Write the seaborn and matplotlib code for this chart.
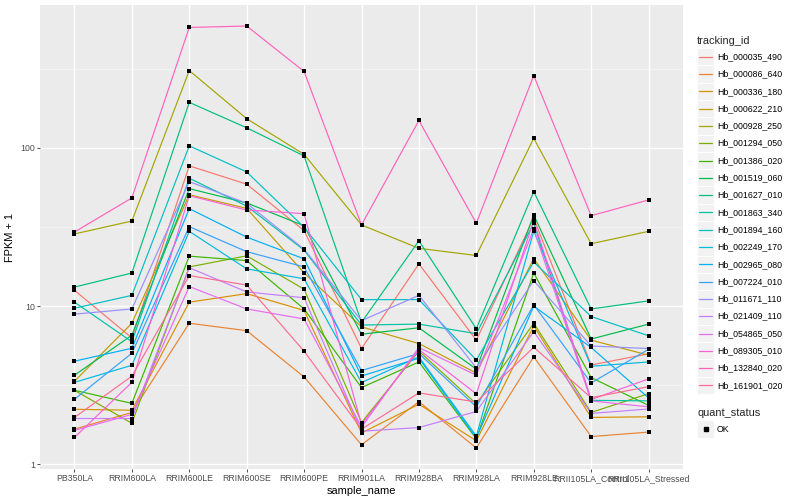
import numpy as np
import pandas as pd
import matplotlib
matplotlib.use("Agg")
import matplotlib.pyplot as plt
import seaborn as sns
from matplotlib.patches import Rectangle
from matplotlib.lines import Line2D
from matplotlib.ticker import FixedLocator, NullFormatter

# ---------------- data (FPKM + 1) ----------------
samples = ["PB350LA", "RRIM600LA", "RRIM600LE", "RRIM600SE", "RRIM600PE",
           "RRIM901LA", "RRIM928BA", "RRIM928LA", "RRIM928LE",
           "RRII105LA_Control", "RRII105LA_Stressed"]

tracking_ids = ["Hb_000035_490", "Hb_000086_640", "Hb_000336_180", "Hb_000622_210",
                "Hb_000928_250", "Hb_001294_050", "Hb_001386_020", "Hb_001519_060",
                "Hb_001627_010", "Hb_001863_340", "Hb_001894_160", "Hb_002249_170",
                "Hb_002965_080", "Hb_007224_010", "Hb_011671_110", "Hb_021409_110",
                "Hb_054865_050", "Hb_089305_010", "Hb_132840_020", "Hb_161901_020"]

line_colors = ["#F8766D", "#EA8331", "#D89000", "#C09B00", "#A3A500", "#7CAE00",
               "#39B600", "#00BB4E", "#00BF7D", "#00C1A3", "#00BFC4", "#00BAE0",
               "#00B0F6", "#35A2FF", "#9590FF", "#C77CFF", "#E76BF3", "#FA62DB",
               "#FF62BC", "#FF6C91"]

hb_000035_490 = [12.6, 6.3, 77, 59, 30, 5.4, 18.5, 6.1, 36, 4.25, 5.0]
hb_000086_640 = [1.67, 2.13, 7.8, 7.0, 3.57, 1.33, 2.49, 1.27, 4.78, 1.50, 1.60]
hb_000336_180 = [2.23, 2.2, 10.6, 12.0, 9.4, 1.58, 2.4, 1.41, 7.5, 1.98, 2.0]
hb_000622_210 = [3.35, 7.8, 50.6, 41.5, 16.2, 7.4, 5.8, 3.78, 20.0, 6.1, 4.9]
hb_000928_250 = [28.6, 34.5, 308, 153, 91, 32.6, 23.2, 20.9, 115, 24.8, 29.7]
hb_001294_050 = [2.94, 1.82, 17.7, 20.8, 12.8, 1.84, 5.2, 2.41, 7.8, 2.13, 2.8]
hb_001386_020 = [2.94, 2.43, 20.7, 19.4, 9.6, 3.06, 4.44, 1.45, 16.2, 3.54, 2.36]
hb_001519_060 = [3.66, 6.55, 55.3, 44.9, 32.2, 6.65, 7.3, 4.0, 37.7, 6.2, 7.7]
hb_001627_010 = [13.2, 16.2, 194, 134, 89, 7.9, 25.9, 7.2, 52.9, 9.6, 10.8]
hb_001863_340 = [10.6, 5.96, 64.3, 42.9, 22.6, 7.6, 7.7, 6.7, 33.4, 2.54, 2.52]
hb_001894_160 = [9.7, 11.7, 103, 70.5, 31.5, 11.0, 11.0, 4.57, 19.0, 8.6, 6.5]
hb_002249_170 = [3.3, 4.23, 29.7, 17.2, 14.9, 3.29, 4.78, 1.51, 29.8, 4.17, 4.44]
hb_002965_080 = [4.49, 5.42, 41.3, 27.3, 19.9, 3.62, 4.69, 1.47, 10.0, 5.48, 2.63]
hb_007224_010 = [2.58, 5.04, 31.8, 22.1, 17.7, 3.92, 5.02, 2.31, 10.2, 3.27, 5.34]
hb_011671_110 = [8.9, 9.6, 61.2, 44.7, 22.9, 8.1, 11.7, 4.07, 14.5, 5.6, 5.4]
hb_021409_110 = [1.95, 1.95, 17.5, 12.3, 11.3, 1.62, 1.71, 2.16, 6.9, 2.1, 2.24]
hb_054865_050 = [1.64, 2.07, 13.3, 9.6, 8.3, 1.72, 5.48, 3.66, 30.7, 2.52, 2.31]
hb_089305_010 = [1.48, 3.3, 49.9, 40.5, 38.4, 1.78, 5.32, 2.79, 34.7, 2.57, 3.47]
hb_132840_020 = [29.4, 48.3, 577, 589, 304, 32.6, 149, 33.4, 286, 37.3, 46.9]
hb_161901_020 = [1.98, 3.61, 15.6, 13.6, 5.19, 1.67, 2.83, 2.48, 5.5, 2.64, 3.1]

series = [hb_000035_490, hb_000086_640, hb_000336_180, hb_000622_210, hb_000928_250,
          hb_001294_050, hb_001386_020, hb_001519_060, hb_001627_010, hb_001863_340,
          hb_001894_160, hb_002249_170, hb_002965_080, hb_007224_010, hb_011671_110,
          hb_021409_110, hb_054865_050, hb_089305_010, hb_132840_020, hb_161901_020]

y_breaks = [1, 10, 100]
y_labels = ["1", "10", "100"]

# ---------------- long table ----------------
rows = []
for tid, vals in zip(tracking_ids, series):
    for s, v in zip(samples, vals):
        rows.append((tid, s, v, "OK"))
df = pd.DataFrame(rows, columns=["tracking_id", "sample_name", "fpkm1", "quant_status"])
df["sample_name"] = pd.Categorical(df["sample_name"], categories=samples, ordered=True)
df["xpos"] = df["sample_name"].cat.codes

# ---------------- style ----------------
sns.set_theme(style="darkgrid")
plt.rcParams["font.family"] = ["Liberation Sans", "DejaVu Sans"]

W, H = 800, 500
fig = plt.figure(figsize=(8, 5), dpi=100)
PL, PR, PT, PB = 40, 683, 5, 469
ax = fig.add_axes([PL / W, 1 - PB / H, (PR - PL) / W, (PB - PT) / H])
ax.set_facecolor("#EBEBEB")
for sp in ax.spines.values():
    sp.set_visible(False)

palette = dict(zip(tracking_ids, line_colors))
sns.lineplot(data=df, x="xpos", y="fpkm1", hue="tracking_id", hue_order=tracking_ids,
             palette=palette, estimator=None, sort=False, linewidth=0.85,
             legend=False, ax=ax, zorder=3)
sns.scatterplot(data=df, x="xpos", y="fpkm1", color="black", marker="s", s=5,
                linewidth=0, legend=False, ax=ax, zorder=4)

ax.set_yscale("log")
ax.set_ylim(10 ** -0.029, 10 ** 2.903)
ax.set_xlim(-0.6, len(samples) - 1 + 0.6)

ax.set_xticks(range(len(samples)))
ax.set_xticklabels(samples)
ax.yaxis.set_major_locator(FixedLocator(y_breaks))
ax.set_yticklabels(y_labels)
ax.yaxis.set_minor_locator(FixedLocator([10 ** 0.5, 10 ** 1.5, 10 ** 2.5]))
ax.yaxis.set_minor_formatter(NullFormatter())

ax.grid(False)
ax.grid(True, which="major", color="white", linewidth=1.0, zorder=1)
ax.grid(True, which="minor", axis="y", color="#F7F7F7", linewidth=0.5, zorder=1)
ax.set_axisbelow(True)

ax.tick_params(axis="both", which="major", length=2.0, width=0.6, color="#333333",
               labelsize=6.3, labelcolor="#4D4D4D", pad=1.6, direction="out",
               bottom=True, left=True)
ax.tick_params(axis="both", which="minor", length=0)

ax.set_xlabel("sample_name", fontsize=7.9, color="black", labelpad=2.5)
ax.set_ylabel("FPKM + 1", fontsize=7.9, color="black", labelpad=4)

# ---------------- legends (drawn in figure pixel space) ----------------
def fx(x):
    return x / W

def fy(y):
    return 1 - y / H

fig.text(fx(697), fy(40.5), "tracking_id", fontsize=7.9, ha="left", va="center")
key_h = 17.3
for i, (tid, col) in enumerate(zip(tracking_ids, line_colors)):
    yc = 56.7 + key_h * i
    fig.patches.append(Rectangle((fx(697), fy(yc + key_h / 2)), 17 / W, key_h / H,
                                 transform=fig.transFigure, facecolor="#F2F2F2",
                                 edgecolor="white", linewidth=0.7))
    fig.lines.append(Line2D([fx(699), fx(712)], [fy(yc), fy(yc)],
                            transform=fig.transFigure, color=col, linewidth=0.9))
    fig.text(fx(717), fy(yc), tid, fontsize=6.3, ha="left", va="center", color="black")

fig.text(fx(697), fy(413), "quant_status", fontsize=7.9, ha="left", va="center")
fig.patches.append(Rectangle((fx(697), fy(429 + key_h / 2)), 17 / W, key_h / H,
                             transform=fig.transFigure, facecolor="#F2F2F2",
                             edgecolor="white", linewidth=0.7))
fig.lines.append(Line2D([fx(705.5)], [fy(429)], transform=fig.transFigure,
                        marker="s", markersize=2.3, color="black", linestyle="none"))
fig.text(fx(717), fy(429), "OK", fontsize=6.3, ha="left", va="center", color="black")

fig.savefig("out.png", dpi=100)
